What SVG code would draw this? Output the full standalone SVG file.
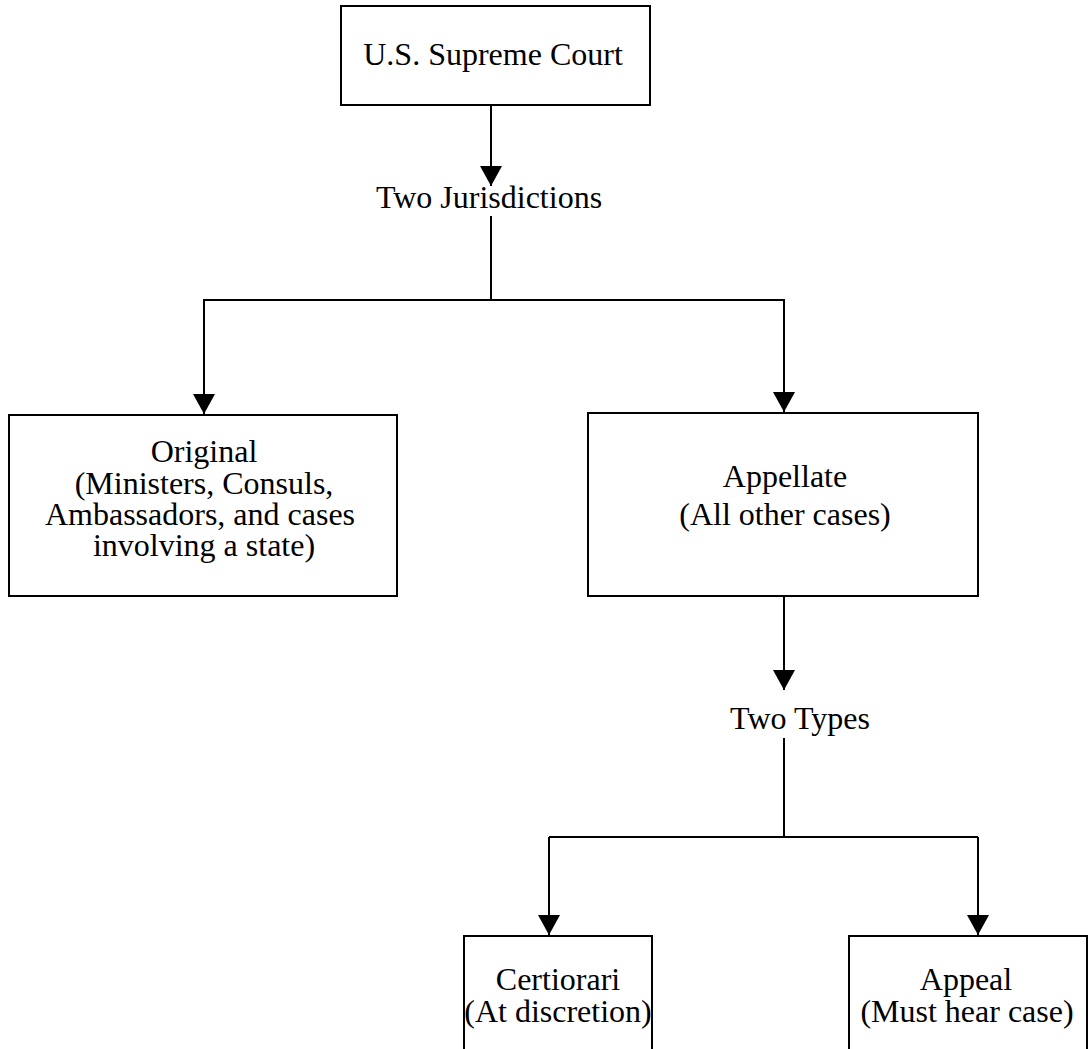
<svg xmlns="http://www.w3.org/2000/svg" width="1090" height="1049" viewBox="0 0 1090 1049">
  <defs>
    <marker id="arrow" viewBox="0 0 20 22" refX="20" refY="11" markerWidth="20" markerHeight="22" markerUnits="userSpaceOnUse" orient="auto">
      <path d="M0,0 L20,11 L0,22 z" fill="#000"/>
    </marker>
    <style>
      .box { fill: #fff; stroke: #000; stroke-width: 2; }
      .lbl { font-family: "Liberation Serif", "Times New Roman", serif; font-size: 32px; fill: #000; text-anchor: middle; }
      .conn { fill: none; stroke: #000; stroke-width: 2; }
    </style>
  </defs>
  <rect width="1090" height="1049" fill="#fff"/>

  <g id="connectors">
    <line class="conn" x1="491" y1="106" x2="491" y2="186" marker-end="url(#arrow)"/>
    <line class="conn" x1="491" y1="216" x2="491" y2="300"/>
    <polyline class="conn" points="204,414 204,300 784,300 784,412" />
    <line class="conn" x1="204" y1="300" x2="204" y2="414" marker-end="url(#arrow)"/>
    <line class="conn" x1="784" y1="300" x2="784" y2="412" marker-end="url(#arrow)"/>
    <line class="conn" x1="784" y1="596" x2="784" y2="690" marker-end="url(#arrow)"/>
    <line class="conn" x1="784" y1="738" x2="784" y2="837"/>
    <polyline class="conn" points="549,837 978,837" />
    <line class="conn" x1="549" y1="837" x2="549" y2="935" marker-end="url(#arrow)"/>
    <line class="conn" x1="978" y1="837" x2="978" y2="935" marker-end="url(#arrow)"/>
  </g>

  <g id="supreme-court">
    <rect class="box" x="341" y="6" width="309" height="99"/>
    <text class="lbl" x="493" y="65">U.S. Supreme Court</text>
  </g>

  <g id="two-jurisdictions">
    <text class="lbl" x="489" y="208">Two Jurisdictions</text>
  </g>

  <g id="original">
    <rect class="box" x="9" y="415" width="388" height="181"/>
    <text class="lbl" x="204" y="462">Original</text>
    <text class="lbl" x="204" y="494">(Ministers, Consuls,</text>
    <text class="lbl" x="200" y="525">Ambassadors, and cases</text>
    <text class="lbl" x="204" y="556">involving a state)</text>
  </g>

  <g id="appellate">
    <rect class="box" x="588" y="413" width="390" height="183"/>
    <text class="lbl" x="785" y="487">Appellate</text>
    <text class="lbl" x="785" y="525">(All other cases)</text>
  </g>

  <g id="two-types">
    <text class="lbl" x="800" y="729">Two Types</text>
  </g>

  <g id="certiorari">
    <rect class="box" x="464" y="936" width="188" height="140"/>
    <text class="lbl" x="558" y="990">Certiorari</text>
    <text class="lbl" x="558" y="1022">(At discretion)</text>
  </g>

  <g id="appeal">
    <rect class="box" x="849" y="936" width="238" height="140"/>
    <text class="lbl" x="966" y="990">Appeal</text>
    <text class="lbl" x="967" y="1022">(Must hear case)</text>
  </g>
</svg>
